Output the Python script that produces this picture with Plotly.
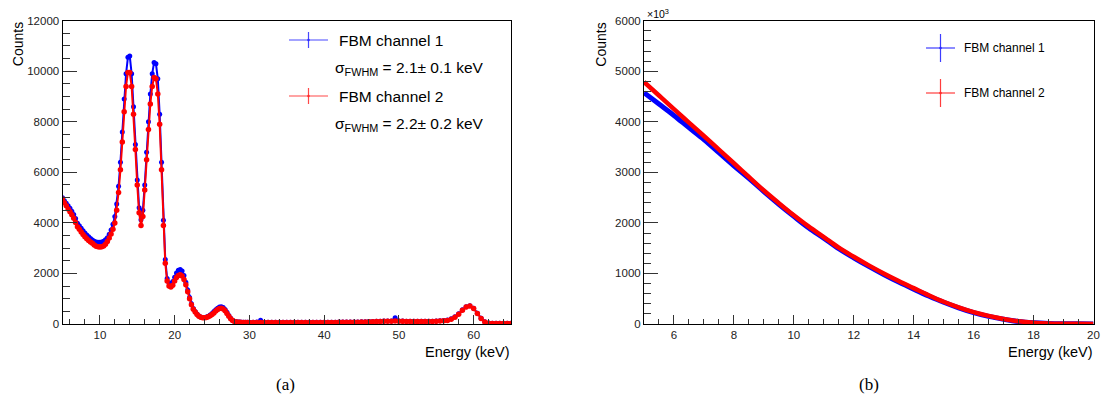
import plotly.graph_objects as go

# ---------------- Panel (a): FBM spectra ----------------
energy_a = [
    5.0, 5.25, 5.5, 5.75, 6.0, 6.25, 6.5, 6.75, 7.0, 7.25, 7.5, 7.75,
    8.0, 8.25, 8.5, 8.75, 9.0, 9.25, 9.5, 9.75, 10.0, 10.25, 10.5, 10.75,
    11.0, 11.25, 11.5, 11.75, 12.0, 12.25, 12.5, 12.75, 13.0, 13.25, 13.5, 13.75,
    14.0, 14.25, 14.5, 14.75, 15.0, 15.25, 15.5, 15.75, 16.0, 16.25, 16.5, 16.75,
    17.0, 17.25, 17.5, 17.75, 18.0, 18.25, 18.5, 18.75, 19.0, 19.25, 19.5, 19.75,
    20.0, 20.25, 20.5, 20.75, 21.0, 21.25, 21.5, 21.75, 22.0, 22.25, 22.5, 22.75,
    23.0, 23.25, 23.5, 23.75, 24.0, 24.25, 24.5, 24.75, 25.0, 25.25, 25.5, 25.75,
    26.0, 26.25, 26.5, 26.75, 27.0, 27.25, 27.5, 27.75, 28.0, 28.25, 28.5, 28.75,
    29.0, 29.25, 29.5, 29.75, 30.0,
    30.5, 31.0, 31.5, 32.0, 32.5, 33.0, 33.5, 34.0, 34.5, 35.0, 35.5, 36.0,
    36.5, 37.0, 37.5, 38.0, 38.5, 39.0, 39.5, 40.0, 40.5, 41.0, 41.5, 42.0,
    42.5, 43.0, 43.5, 44.0, 44.5, 45.0, 45.5, 46.0, 46.5, 47.0, 47.5, 48.0,
    48.5, 49.0, 49.5, 50.0, 50.5, 51.0, 51.5, 52.0, 52.5, 53.0, 53.5, 54.0,
    54.5, 55.0, 55.5, 56.0, 56.5, 57.0, 57.5, 58.0, 58.5, 59.0, 59.5, 60.0,
    60.5, 61.0, 61.5, 62.0, 62.5, 63.0, 63.5, 64.0, 64.5, 65.0,
]

ch1_a = [
    5000, 4880, 4780, 4680, 4580, 4460, 4330, 4170, 3990, 3890, 3790, 3690,
    3600, 3520, 3450, 3380, 3320, 3270, 3240, 3230, 3230, 3240, 3270, 3330,
    3410, 3550, 3720, 3950, 4250, 4750, 5450, 6400, 7600, 8900, 9900, 10550,
    10600, 9900, 8600, 7100, 5700, 4600, 4120, 4500, 5500, 6800, 8000, 9100,
    9900, 10350, 10300, 9700, 8300, 6400, 4100, 2550, 1800, 1620, 1600, 1680,
    1850, 2020, 2130, 2160, 2100, 1920, 1650, 1350, 1050, 800, 610, 490,
    400, 320, 280, 260, 260, 280, 310, 360, 420, 490, 560, 620,
    670, 685, 650, 570, 460, 340, 230, 150, 110, 90, 80, 75,
    70, 70, 70, 70, 70,
    70, 75, 150, 70, 70, 70, 70, 70, 70, 70, 70, 70,
    70, 70, 70, 70, 70, 70, 70, 70, 70, 70, 70, 75,
    75, 75, 75, 80, 80, 85, 90, 95, 100, 105, 110, 115,
    120, 120, 250, 120, 115, 110, 110, 105, 105, 105, 105, 110,
    110, 115, 125, 140, 160, 210, 290, 410, 560, 685, 720, 620,
    430, 230, 90, 40, 30, 30, 30, 30, 30, 30,
]

ch2_a = [
    4950, 4800, 4680, 4550, 4440, 4320, 4180, 4020, 3850, 3750, 3640, 3540,
    3450, 3370, 3300, 3240, 3190, 3130, 3080, 3060, 3050, 3060, 3090, 3160,
    3260, 3400, 3560, 3750, 4000, 4500, 5200, 6100, 7200, 8400, 9400, 9950,
    9950, 9400, 8300, 6900, 5500, 4400, 3900, 4250, 5300, 6500, 7700, 8700,
    9400, 9750, 9700, 9100, 7900, 6100, 3900, 2400, 1700, 1500, 1460, 1530,
    1700, 1840, 1920, 1950, 1900, 1760, 1550, 1280, 1000, 760, 580, 470,
    380, 310, 270, 250, 245, 260, 290, 330, 380, 440, 510, 570,
    610, 620, 590, 520, 420, 310, 210, 140, 100, 80, 70, 65,
    60, 60, 60, 60, 60,
    60, 60, 60, 60, 60, 60, 60, 60, 60, 60, 60, 60,
    60, 60, 60, 60, 60, 60, 60, 60, 60, 60, 60, 65,
    65, 65, 65, 70, 70, 75, 80, 85, 90, 95, 100, 105,
    110, 110, 115, 110, 105, 100, 100, 95, 95, 95, 95, 100,
    100, 105, 115, 125, 140, 190, 270, 390, 540, 670, 710, 610,
    420, 220, 80, 30, 20, 20, 20, 20, 20, 20,
]

# ---------------- Panel (b): FBM curves (x10^3 counts) ----------------
energy_b = [5.0, 5.5, 6.0, 6.5, 7.0, 7.5, 8.0, 8.5, 9.0, 9.5, 10.0, 10.5,
            11.0, 11.5, 12.0, 12.5, 13.0, 13.5, 14.0, 14.5, 15.0, 15.5,
            16.0, 16.5, 17.0, 17.5, 18.0, 18.5, 19.0, 19.5, 20.0]
ch1_b = [4575, 4350, 4125, 3885, 3650, 3390, 3130, 2880, 2620, 2370, 2130, 1900,
         1700, 1490, 1310, 1140, 980, 830, 690, 555, 430, 320,
         225, 150, 95, 50, 25, 11, 5, 3, 2]
ch2_b = [4790, 4520, 4250, 3985, 3720, 3450, 3180, 2910, 2640, 2390, 2150, 1925,
         1720, 1510, 1330, 1160, 1000, 850, 710, 570, 440, 330,
         235, 160, 100, 55, 27, 12, 6, 3, 2]

legend_a = ["FBM channel 1", "FBM channel 2"]
sigma_a = ["σ<sub>FWHM</sub> = 2.1± 0.1 keV", "σ<sub>FWHM</sub> = 2.2± 0.2 keV"]
legend_b = ["FBM channel 1", "FBM channel 2"]

assert len(energy_a) == len(ch1_a) == len(ch2_a), (len(energy_a), len(ch1_a), len(ch2_a))
assert len(energy_b) == len(ch1_b) == len(ch2_b)

W, H = 1101, 403
BLUE, RED = "#0000ff", "#ff0000"
FONT = "Liberation Sans, Arial, Helvetica, sans-serif"


def px(x):
    return x / W


def py(y):
    return 1 - y / H


fig = go.Figure()

fig.add_trace(go.Scatter(x=energy_a, y=ch1_a, mode="lines+markers", xaxis="x", yaxis="y",
                         line=dict(color=BLUE, width=2), marker=dict(color=BLUE, size=5),
                         showlegend=False))
fig.add_trace(go.Scatter(x=energy_a, y=ch2_a, mode="lines+markers", xaxis="x", yaxis="y",
                         line=dict(color=RED, width=2), marker=dict(color=RED, size=5.5),
                         showlegend=False))
fig.add_trace(go.Scatter(x=energy_b, y=ch1_b, mode="lines", xaxis="x2", yaxis="y2",
                         line=dict(color=BLUE, width=5, shape="spline"), showlegend=False))
fig.add_trace(go.Scatter(x=energy_b, y=ch2_b, mode="lines", xaxis="x2", yaxis="y2",
                         line=dict(color=RED, width=4.5, shape="spline"), showlegend=False))

tickfont = dict(family=FONT, size=11.5, color="#222")
common = dict(showline=True, linecolor="black", linewidth=1, mirror=True,
              ticks="inside", tickcolor="#333", tickwidth=1, showgrid=False,
              zeroline=False, tickfont=tickfont, tickformat="d", automargin=False)

fig.update_layout(
    width=W, height=H,
    margin=dict(l=0, r=0, t=0, b=0, pad=0),
    paper_bgcolor="white", plot_bgcolor="white",
    showlegend=False,
    xaxis=dict(domain=[px(62.5), px(511)], range=[5, 65], tick0=0, dtick=10, ticklen=9,
               minor=dict(dtick=2, ticklen=5, ticks="inside", tickcolor="#333"),
               anchor="y", **common),
    yaxis=dict(domain=[py(324), py(20.7)], range=[0, 12000], tick0=0, dtick=2000, ticklen=14,
               minor=dict(dtick=500, ticklen=7, ticks="inside", tickcolor="#333"),
               anchor="x", **common),
    xaxis2=dict(domain=[px(644), px(1093.5)], range=[5, 20], tick0=0, dtick=2, ticklen=9,
                minor=dict(dtick=0.5, ticklen=5, ticks="inside", tickcolor="#333"),
                anchor="y2", **common),
    yaxis2=dict(domain=[py(324), py(20.7)], range=[0, 6000], tick0=0, dtick=1000, ticklen=14,
                minor=dict(dtick=200, ticklen=7, ticks="inside", tickcolor="#333"),
                anchor="x2", **common),
)

ann = []


def text(x, y, s, size, xanchor="left", yanchor="middle", family=FONT, angle=0):
    ann.append(dict(x=px(x), y=py(y), xref="paper", yref="paper", text=s, showarrow=False,
                    xanchor=xanchor, yanchor=yanchor, textangle=angle,
                    font=dict(family=family, size=size, color="black")))


# axis titles
text(17.5, 20.7, "Counts", 14, xanchor="center", yanchor="top", angle=-90)
text(601, 20.7, "Counts", 14, xanchor="center", yanchor="top", angle=-90)
text(512, 352, "Energy (keV)", 14.5, xanchor="right")
text(1095, 352, "Energy (keV)", 14.5, xanchor="right")
text(645, 14, "×10<sup>3</sup>", 10.5, xanchor="left")
# captions
text(285, 384, "(a)", 17, xanchor="center", family="Liberation Serif, Times New Roman, serif")
text(869, 384, "(b)", 17, xanchor="center", family="Liberation Serif, Times New Roman, serif")

# legend (a)
text(337, 40, legend_a[0], 15.5)
text(333, 68, sigma_a[0], 15.5)
text(337, 96, legend_a[1], 15.5)
text(333, 125, sigma_a[1], 15.5)
# legend (b)
text(962, 48, legend_b[0], 12)
text(962, 93, legend_b[1], 12)

shapes = []


def cross(cx, cy, hw, hh, color):
    shapes.append(dict(type="line", xref="paper", yref="paper", x0=px(cx - hw), x1=px(cx + hw),
                       y0=py(cy), y1=py(cy), line=dict(color=color, width=1.2)))
    shapes.append(dict(type="line", xref="paper", yref="paper", x0=px(cx), x1=px(cx),
                       y0=py(cy - hh), y1=py(cy + hh), line=dict(color=color, width=1.2)))
    shapes.append(dict(type="circle", xref="paper", yref="paper", x0=px(cx - 1.3), x1=px(cx + 1.3),
                       y0=py(cy - 1.3), y1=py(cy + 1.3), fillcolor=color, line=dict(width=0)))


cross(308.5, 40, 19.5, 8, "rgba(40,40,255,0.85)")
cross(308.5, 96, 19.5, 8, "rgba(255,40,40,0.85)")
cross(940.5, 48, 14.5, 14, "rgba(40,40,255,0.9)")
cross(940.5, 93, 14.5, 14, "rgba(255,40,40,0.9)")

fig.update_layout(annotations=ann, shapes=shapes)

fig.write_html("out.html", config={"displayModeBar": False},
               post_script="document.body.style.margin='0';document.body.style.padding='0';"
                           "document.body.style.overflow='hidden';")
